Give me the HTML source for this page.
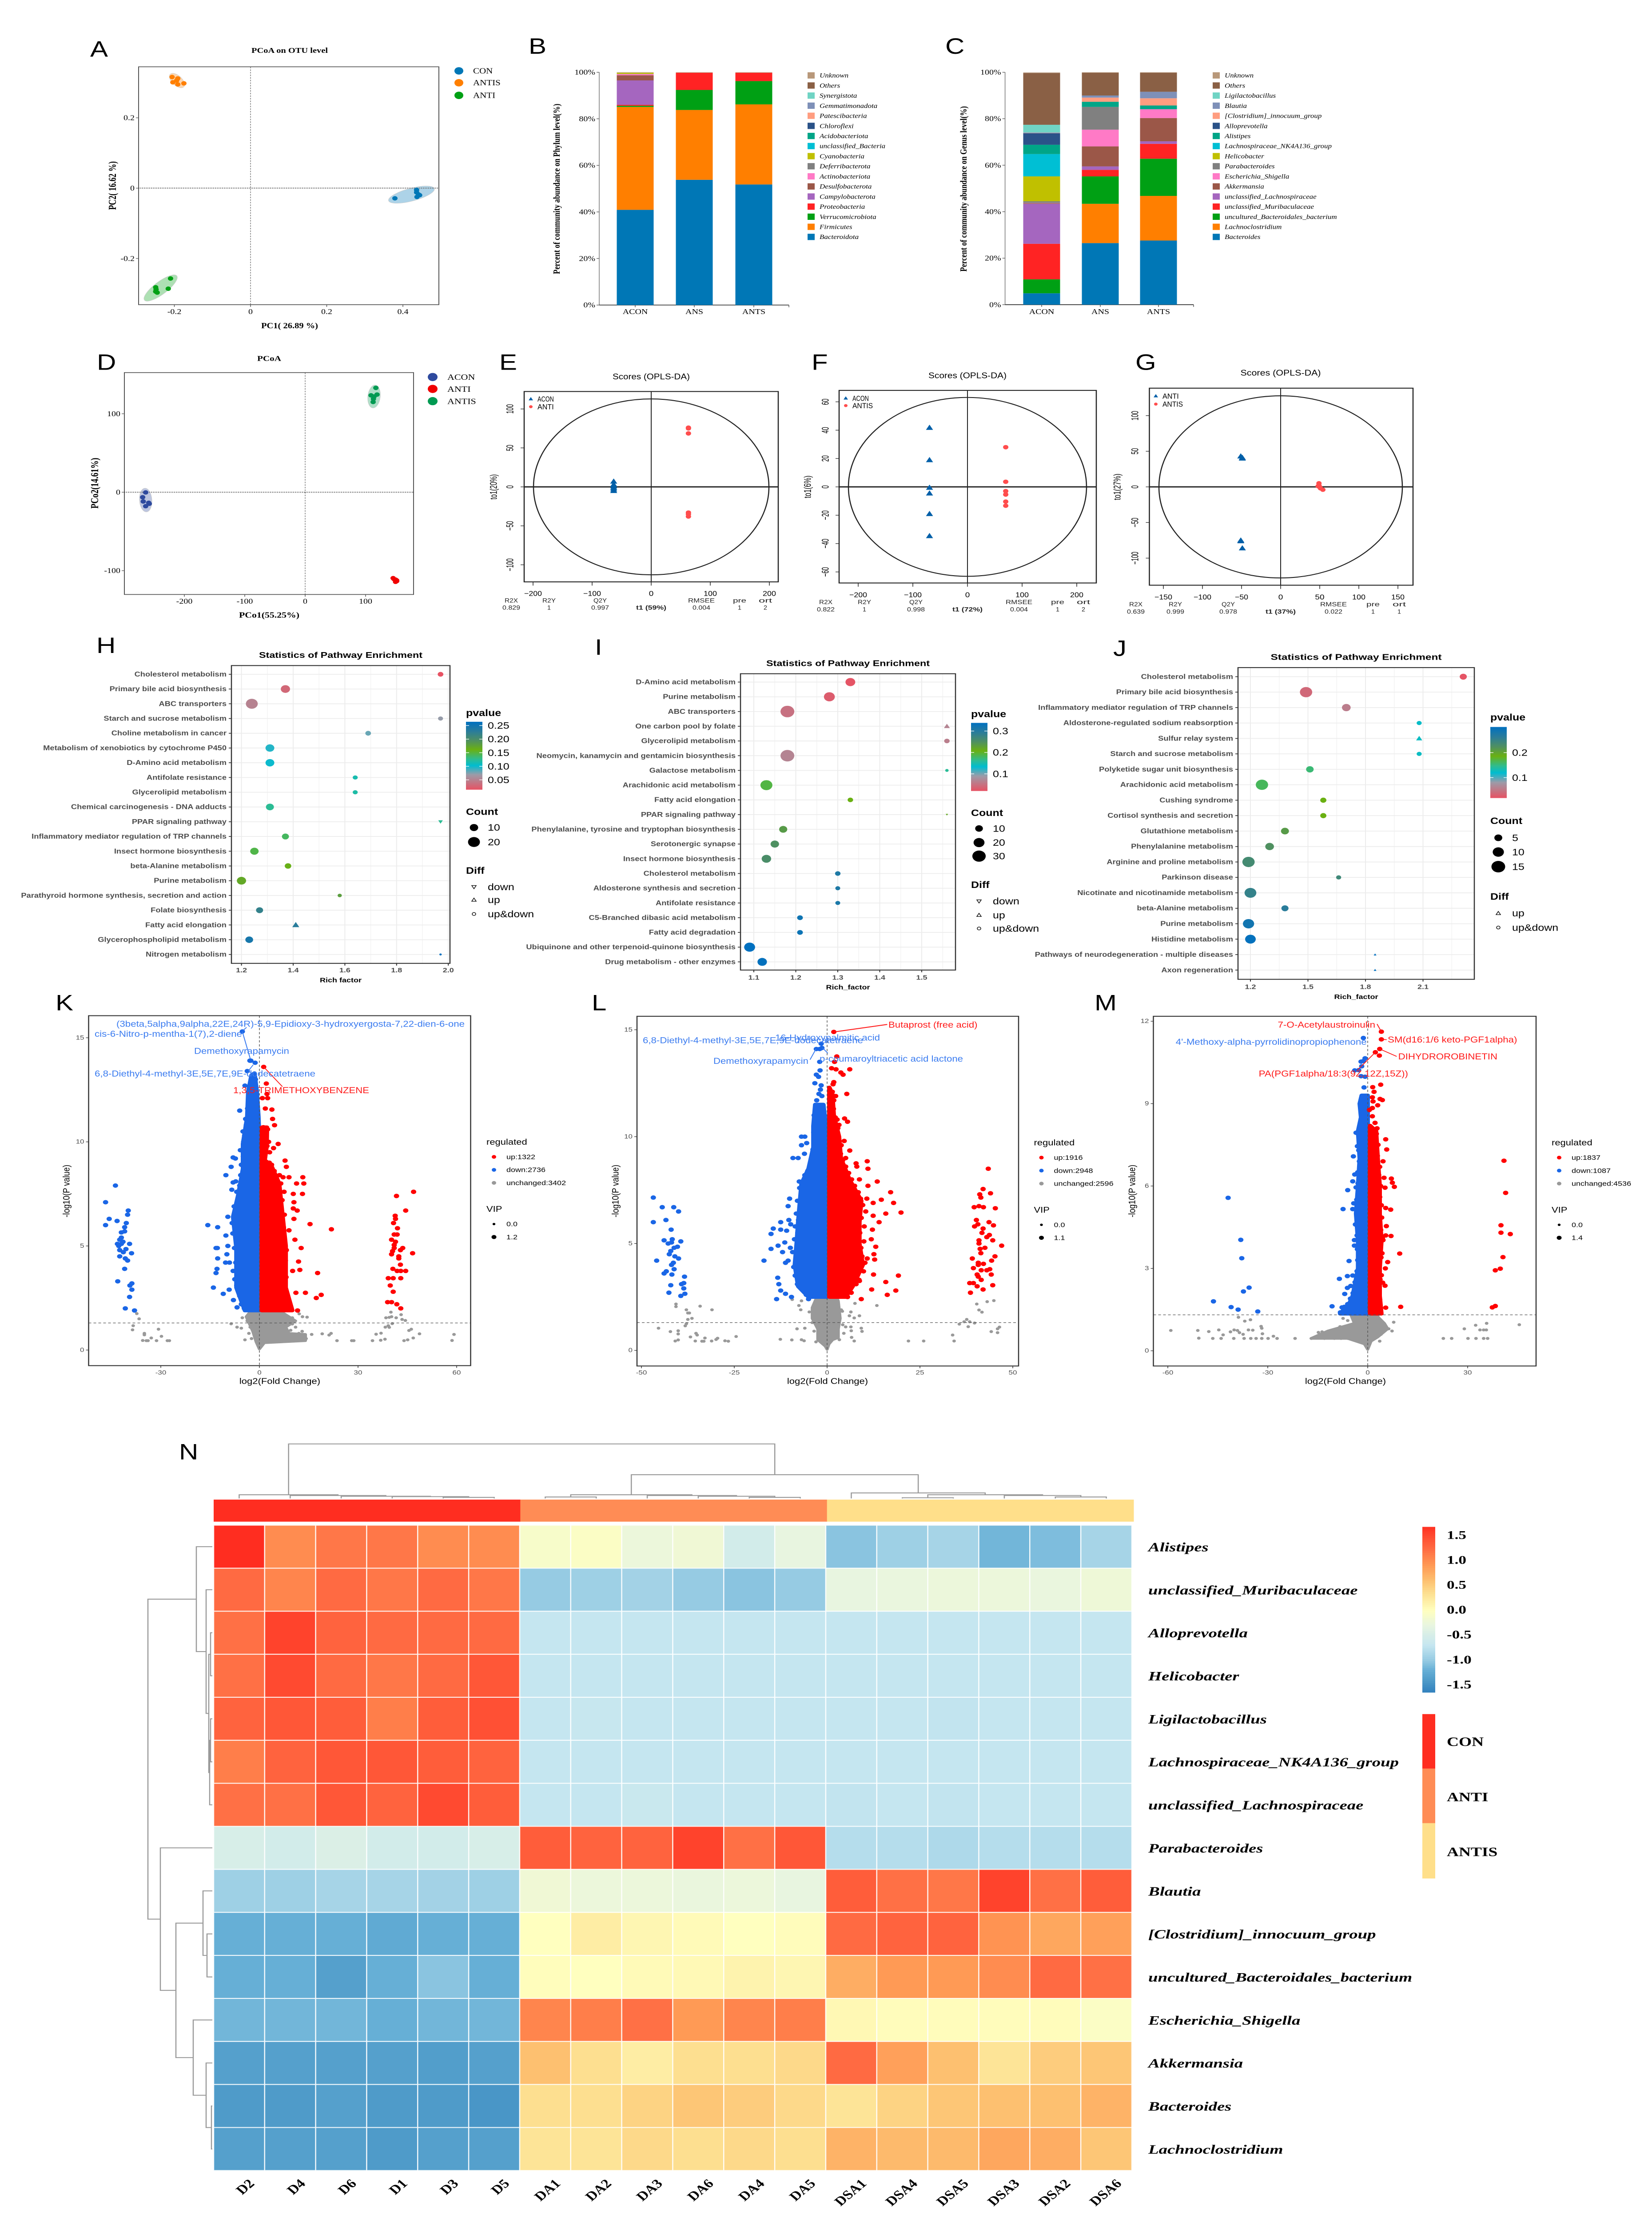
<!DOCTYPE html>
<html lang="en">
<head>
<meta charset="utf-8">
<title>Multi-panel microbiome and metabolomics figure</title>
<style>
html,body{margin:0;padding:0;background:#fff;width:100vw;height:100vh;overflow:hidden;}
#frame{position:relative;width:100vw;height:100vh;overflow:hidden;}
svg{display:block;position:absolute;left:0;top:0;width:100vw;height:100vh;}
text{white-space:pre;}
</style>
</head>
<body>
<div id="frame">
<svg id="figure" xmlns="http://www.w3.org/2000/svg" preserveAspectRatio="none" viewBox="0 0 3719 5985">
<defs>
<linearGradient id="pgrad" x1="0" y1="1" x2="0" y2="0">
<stop offset="0" stop-color="#e75263"/><stop offset=".22" stop-color="#9c9ba8"/><stop offset=".355" stop-color="#00bcd0"/><stop offset=".45" stop-color="#2ebc90"/><stop offset=".59" stop-color="#6ab012"/><stop offset=".72" stop-color="#4f9060"/><stop offset=".86" stop-color="#2a7c9a"/><stop offset="1" stop-color="#0070c0"/>
</linearGradient>
</defs>
<rect width="3719" height="5985" fill="#fff"/>
</svg>
</div>
<script>
/* ===== DATA: panel A ===== */
const aCon=[[.379,-.029],[.436,-.005],[.441,-.018],[.444,-.02],[.437,-.025],[.436,-.012]];
const aAntis=[[-.206,.316],[-.191,.312],[-.204,.301],[-.194,.306],[-.191,.295],[-.175,.298]];
const aAnti=[[-.21,-.257],[-.249,-.282],[-.249,-.294],[-.245,-.297],[-.216,-.286],[-.248,-.288]];
/* ===== DATA: panel B ===== */
const bTaxa=['Bacteroidota','Firmicutes','Verrucomicrobiota','Proteobacteria','Campylobacterota','Desulfobacterota','Actinobacteriota','Deferribacterota','Cyanobacteria','unclassified_Bacteria','Acidobacteriota','Chloroflexi','Patescibacteria','Gemmatimonadota','Synergistota','Others','Unknown'];
const bGroups=['ACON','ANS','ANTS'];
const bAcon=[40.9,44.2,.5,.4,10.5,2.2,.5,.1,.5,0,0,0,0,0,0,0,.2];
const bAns=[53.8,30,8.6,7.4,0,0,0,0,0,0,0,0,0,0,0,0,.2];
const bAnts=[51.8,34.4,10,3.6,0,0,0,0,0,0,0,0,0,0,0,0,.2];
/* ===== DATA: panel C ===== */
const cTaxa=['Bacteroides','Lachnoclostridium','uncultured_Bacteroidales_bacterium','unclassified_Muribaculaceae','unclassified_Lachnospiraceae','Akkermansia','Escherichia_Shigella','Parabacteroides','Helicobacter','Lachnospiraceae_NK4A136_group','Alistipes','Alloprevotella','[Clostridium]_innocuum_group','Blautia','Ligilactobacillus','Others','Unknown'];
const cGroups=['ACON','ANS','ANTS'];
const cAcon=[4.9,0,6,15.3,17.2,.3,.1,.7,10.7,9.6,4,5,.1,.2,3.3,22.3,.2];
const cAns=[26.5,16.9,11.8,2.8,1.5,8.6,7.2,9.8,0,0,2.2,0,1.8,.9,0,9.8,.2];
const cAnts=[27.6,19.2,16,6.4,1.1,10,3.8,0,0,0,1.6,0,3.1,2.8,0,8.2,.2];
/* ===== DATA: panel D ===== */
const dAcon=[[-264,-.3],[-269,-6.4],[-268,-11.8],[-259,-13.5],[-258,-14.7],[-264,-17.8]];
const dAnti=[[145.6,-109.5],[149.6,-111.4],[151.5,-112.4],[149.6,-114.2],[147,-110.7],[151.5,-113.3]];
const dAntis=[[117,133],[109,123.5],[119,124.5],[113,119],[112.5,115],[114,122]];
/* ===== DATA: panels E F G ===== */
const eAcon=[[-63.5,7],[-63.5,3],[-63.5,1],[-63.5,-1],[-63.5,-3],[-63.5,-5]];
const eAnti=[[63,75],[63,68.6],[63,-33],[63,-35],[63,-38],[63,76]];
const fAcon=[[-69.5,41.8],[-69.5,19],[-69.5,-.5],[-69.5,-4.5],[-69.5,-19],[-69.5,-34.6]];
const fAntis=[[70,28],[70,3.6],[70,-3],[70,-5.4],[70,-10.4],[70,-13.3]];
const gAnti=[[-51,43],[-49,40],[-49,41],[-51,-76],[-49,-86],[-51,-75]];
const gAntis=[[49,5],[48,1],[50,-.3],[51,-2],[54,-4],[49,2]];
/* ===== DATA: panel H ===== */
const hNames=['Cholesterol metabolism','Primary bile acid biosynthesis','ABC transporters','Starch and sucrose metabolism','Choline metabolism in cancer','Metabolism of xenobiotics by cytochrome P450','D-Amino acid metabolism','Antifolate resistance','Glycerolipid metabolism','Chemical carcinogenesis - DNA adducts','PPAR signaling pathway','Inflammatory mediator regulation of TRP channels','Insect hormone biosynthesis','beta-Alanine metabolism','Purine metabolism','Parathyroid hormone synthesis, secretion and action','Folate biosynthesis','Fatty acid elongation','Glycerophospholipid metabolism','Nitrogen metabolism'];
const hRich=[1.97,1.37,1.24,1.97,1.69,1.31,1.31,1.64,1.64,1.31,1.97,1.37,1.25,1.38,1.2,1.58,1.27,1.41,1.23,1.97];
const hP=[.014,.03,.05,.07,.08,.095,.10,.115,.118,.125,.125,.14,.146,.16,.17,.18,.22,.23,.245,.264];
const hCount=[4.5,12,20,3.5,4.5,11,11,3.5,3.5,9,3,7,10,6,12,2.5,7,7,8.5,.8];
const hDiff=['o','o','o','o','o','o','o','o','o','o','d','o','o','o','o','o','o','u','o','o'];
/* ===== DATA: panel I ===== */
const iNames=['D-Amino acid metabolism','Purine metabolism','ABC transporters','One carbon pool by folate','Glycerolipid metabolism','Neomycin, kanamycin and gentamicin biosynthesis','Galactose metabolism','Arachidonic acid metabolism','Fatty acid elongation','PPAR signaling pathway','Phenylalanine, tyrosine and tryptophan biosynthesis','Serotonergic synapse','Insect hormone biosynthesis','Cholesterol metabolism','Aldosterone synthesis and secretion','Antifolate resistance','C5-Branched dibasic acid metabolism','Fatty acid degradation','Ubiquinone and other terpenoid-quinone biosynthesis','Drug metabolism - other enzymes'];
const iRich=[1.33,1.28,1.18,1.56,1.56,1.18,1.56,1.13,1.33,1.56,1.17,1.15,1.13,1.3,1.3,1.3,1.21,1.21,1.09,1.12];
const iP=[.022,.03,.05,.068,.062,.068,.16,.19,.208,.217,.236,.25,.255,.306,.306,.31,.322,.325,.338,.335];
const iCount=[16,20,32,6,5,32,2,24,5,1,11,12,15,5,4,4,5.5,5.5,20,15];
const iDiff=['o','o','o','u','o','o','o','o','o','d','o','o','o','o','o','o','o','o','o','o'];
/* ===== DATA: panel J ===== */
const jNames=['Cholesterol metabolism','Primary bile acid biosynthesis','Inflammatory mediator regulation of TRP channels','Aldosterone-regulated sodium reabsorption','Sulfur relay system','Starch and sucrose metabolism','Polyketide sugar unit biosynthesis','Arachidonic acid metabolism','Cushing syndrome','Cortisol synthesis and secretion','Glutathione metabolism','Phenylalanine metabolism','Arginine and proline metabolism','Parkinson disease','Nicotinate and nicotinamide metabolism','beta-Alanine metabolism','Purine metabolism','Histidine metabolism','Pathways of neurodegeneration - multiple diseases','Axon regeneration'];
const jRich=[2.31,1.49,1.70,2.08,2.08,2.08,1.51,1.26,1.58,1.58,1.38,1.30,1.19,1.66,1.20,1.38,1.19,1.20,1.85,1.85];
const jP=[.02,.037,.055,.123,.125,.125,.155,.163,.186,.186,.212,.223,.235,.24,.252,.263,.286,.30,.303,.303];
const jCount=[4,12,6,2,3,2,4.5,12,3,3,5,6,12,2,11,4,10,9,.6,.6];
const jDiff=['o','o','o','o','u','o','o','o','o','o','o','o','o','o','o','o','o','o','u','u'];
/* ===== DATA: panel K (log2FC, -log10 P) ===== */
const kDownCloud=[[-4.4,1.9],[-7,3],[-7,4.9],[-8,6.4],[-6.5,7.4],[-5,8.7],[-5,9.9],[-3.7,11.2],[-3.4,12.4],[-2.4,13.2],[-1.5,13.3],[-.8,12.4],[-.3,11.2],[0,9.9],[0,1.9]];
const kUpCloud=[[.7,1.9],[10,1.9],[8,3],[8,5],[7,6.5],[6,8],[3.5,8.9],[1.5,9],[2.2,9.8],[2.3,10.7],[.8,10.7],[.7,9]];
const kGrayCloud=[[0,.05],[1.5,.35],[14,.45],[14,.75],[9,.8],[8,1.1],[11,1.4],[6,1.9],[-1,2.2],[-4,1.6],[-2,.9],[-1,.4]];
const kDown=[[-43.8,7.9],[-46.8,7.1],[-39.9,6.7],[-40.1,6.5],[-45.7,6.3],[-43.3,6.2],[-40.5,6.1],[-46.8,6],[-41,5.9],[-41,5.7],[-42,5.65],[-42,5.4],[-42.5,5.3],[-41.5,5.2],[-43.2,5.1],[-42,5.1],[-39.5,5.1],[-42.8,5],[-40.6,4.85],[-42.5,4.8],[-41.4,4.7],[-38.9,4.65],[-42.5,4.5],[-40.8,4.4],[-40.1,4.3],[-41,3.9],[-43.1,3.3],[-38.8,3.2],[-39.4,3.1],[-38.8,2.9],[-39.5,2.55],[-40.8,2],[-38,1.9],[-15.7,6],[-12.7,5.9],[-9.6,6.4],[-10.2,8.4],[-8.6,8.8],[-8,9.25],[-7.3,9.2],[-8.4,7.7],[-10.2,5.5],[-9.6,5],[-13.2,4.9],[-12.8,4.9],[-9.9,4.6],[-12.7,4.4],[-10.3,4.2],[-9.1,4.2],[-12.9,3.9],[-13.2,3.7],[-14,3],[-11,2.7],[-9.2,2.9],[-7.9,2.4],[-6,11.5],[-4.4,12.7],[-5.2,15.3],[-3.7,13.4],[-2.6,13.9],[-1.3,13.8],[-2.9,13.9],[-6.8,2.05],[-8,8.05]];
const kDownEdge=[[-7.5,3.4],[-6.9,3.1],[-8,3.8],[-7.2,4.2],[-6.8,4.5],[-7.6,4.9],[-6.5,5.3],[-8.1,5.6],[-7.4,5.9],[-8.3,6.1],[-7.1,6.6],[-7.7,6.9],[-6.6,7.2],[-6.9,7.6],[-6,7.9],[-7.2,8.1],[-5.7,8.4],[-5.5,8.9],[-4.9,9.3],[-5.8,9.6],[-4.8,10],[-4.5,10.3],[-5,10.5],[-4,10.8],[-4.2,11.1],[-3.6,11.6],[-3.3,12],[-2.9,12.4],[-2.5,12.9],[-2,13.1],[-6,2.6],[-5.5,2.2],[-4.6,2],[-6.6,2.9],[-3.1,11.9],[-1.2,13],[-1.8,12.7],[-1,12.2],[-.9,11.6],[-.5,11],[-.3,10.6]];
const kUp=[[46.9,7.6],[41.7,7.4],[44.5,6.7],[41.3,6.45],[41.4,6.3],[40.8,6.1],[42,5.85],[41,5.55],[41.9,5.55],[40.2,5.3],[41.4,5.2],[41,5.05],[41,4.9],[43.6,4.9],[42.9,4.8],[40.5,4.75],[40.2,4.6],[46.6,4.65],[42.4,4.5],[42.4,4.4],[42.9,4.1],[40.6,3.9],[43,3.8],[41.9,3.8],[44.5,3.8],[39.2,3.45],[40.7,3.45],[43,3.45],[39.8,3.1],[40.7,2.8],[39,2.3],[40.2,2.3],[41.8,2.2],[43,2],[21.9,5.8],[15.4,6.05],[14,2.75],[18.8,2.65],[17.3,2.5],[17.7,3.7],[11.9,4.25],[12.7,4.9],[10.8,5.3],[12.3,3.85],[10.1,3.8],[11.1,2.75],[11.6,1.9],[9,5.75],[10.5,6.3],[11.5,6.7],[10.3,6.8],[10.5,7.1],[13.1,7.5],[10.3,7.5],[11.3,8],[13.5,8],[13.2,8.3],[9,8.3],[7.8,9.1],[8.2,8.8],[5.7,9.9],[4.3,9.7],[4.6,10.8],[4,11.1],[3.8,11.55],[1.8,11.6],[2.5,12.1],[.9,12.1],[2.3,12.3],[2.1,12.8],[1.3,13.6]];
const kUpEdge=[[8.3,2.2],[7.5,2.5],[9.2,2.1],[8,2.9],[7.1,3.3],[8.1,3.5],[6.9,3.9],[7.9,4.3],[6.5,4.6],[8.2,4.8],[7,5.2],[6.2,5.5],[7.3,5.9],[6.8,6.2],[7.6,6.5],[5.9,6.9],[6.9,7.2],[7.5,7.6],[5.6,7.8],[6.5,8],[5,8.3],[4.5,8.6],[3.7,8.9],[3,9],[2,9.05],[1.5,9.6],[2.3,9.8],[1.9,10.2],[2.1,10.5],[1.2,10.7],[2.5,10.6],[3.1,9.5],[2.8,10],[6.1,8.4],[7.2,8.3],[5.2,7.1]];
const kGray=[[-37.3,1.75],[-36.6,1.5],[-38.4,1.17],[-38.6,.97],[-35,.8],[-35,.73],[-32.9,.58],[-29.8,.66],[-30.7,1],[-35.5,.46],[-34.4,.45],[-33.9,.45],[-31.3,.45],[-28,.45],[-27.4,.45],[15.9,.75],[19.1,.78],[21.2,.72],[21.8,.8],[23.6,.45],[28.1,.45],[28.7,.45],[34.4,.45],[35.5,.76],[37,.81],[36.9,.47],[38.2,.52],[38.3,1.1],[39.2,1.17],[39.5,1.09],[40.4,1.27],[38.5,1.55],[39.5,1.57],[40.2,1.6],[40,1.82],[41.6,1.55],[43.1,1.7],[43.4,1.47],[44.4,1.42],[45.5,.94],[46.2,1],[48.7,.78],[44,.45],[45.1,.49],[46.8,.58],[58.6,.46],[59.2,.75],[10,1.55],[12.1,1.74],[13.1,1.6],[14.5,1.58],[-5.2,1.55],[-8.6,1.26],[-6.8,1.1],[-5.5,1.05],[-4.4,.49],[3,1.8],[5,1.6],[7,1.5],[8.5,1.3],[10,1.25],[11,1.1],[13,.9],[9.5,.95],[12,.8],[14.2,.55],[11.5,.5],[7,.55],[-2,1.9],[-3,1.7],[-3.7,1.4],[-2.8,1.1],[-3.2,.8],[-2.4,.55],[1,2]];
/* ===== DATA: panel L ===== */
const lDownCloud=[[-5,2.5],[-7.8,3],[-8.7,4],[-8.2,5],[-7.8,6],[-7.3,7],[-6.9,7.8],[-5,8.5],[-3.7,9.5],[-3.7,10.5],[-3.2,11.5],[-1,11.5],[0,10],[0,2.5]];
const lUpCloud=[[.6,2.5],[5,2.5],[6.9,3],[9.6,4],[8.7,5],[8.7,6],[9.2,7],[6,8],[3.7,9],[3.2,10],[1.8,11],[1.4,12],[.6,12.3]];
const lGrayCloud=[[0,.05],[.5,.3],[1.5,.5],[3,.6],[3,1],[3.5,1.5],[3,2.3],[1.5,3],[-1.5,3],[-3,2.4],[-4,2],[-4,1.5],[-2.5,1],[-2.5,.5],[-.5,.2]];
const lDown=[[-46.8,7.15],[-44.4,6.7],[-41.3,6.7],[-40,6.5],[-43.4,6.1],[-46.8,6],[-42,5.65],[-43.9,5.15],[-41.7,5.2],[-39.4,5.1],[-42.8,5],[-41.9,5.05],[-40.3,4.85],[-41.2,4.8],[-42.1,4.65],[-42.5,4.5],[-41,4.4],[-40,4.3],[-45.9,4.2],[-41.4,4.1],[-41.9,4],[-43.3,3.7],[-41.2,3.8],[-43.9,3.6],[-41.8,3.55],[-38.4,3.45],[-38.6,3.15],[-42.1,3.05],[-39.2,3.1],[-38.6,2.9],[-42.6,2.7],[-38.3,2.65],[-39.4,2.55],[-17,4.2],[-15.1,5.45],[-14.5,5.7],[-12.5,6],[-12.5,5.65],[-10.9,5.6],[-10.3,6.1],[-9.8,5.9],[-15.1,4.75],[-13.2,4.9],[-11.4,5.05],[-12,4.6],[-9.9,4.8],[-10.5,4.2],[-11.2,4.1],[-13.3,3.4],[-13,3.1],[-12.5,2.8],[-11.2,2.65],[-13.6,2.4],[-9.6,2.5],[-10.1,7.1],[-10.5,6.75],[-9.2,9],[-7.8,9],[-6.9,10],[-6,10],[-6.9,9.6],[-5.5,9.7],[-6.1,9.2],[-7.5,7.9],[-1.6,14.35],[-2.9,14.1],[-2,14.1],[-1.4,14.15],[-2,13.5],[-1.9,13.1],[-2.9,12.9],[-2.3,12.8],[-3.3,12.5],[-1.6,12.4],[-1.8,12.2]];
const lDownEdge=[[-5.6,2.6],[-6.8,2.9],[-8,3.1],[-8.6,3.5],[-9,3.9],[-8.2,4.3],[-9.3,4.6],[-8.1,4.9],[-8.8,5.2],[-7.9,5.5],[-8.6,5.8],[-7.7,6.1],[-8.3,6.4],[-7.3,6.7],[-8,7],[-7,7.3],[-7.4,7.6],[-6.6,7.9],[-6,8.2],[-5.2,8.4],[-4.6,8.7],[-4.2,9],[-3.8,9.4],[-3.4,9.8],[-3.6,10.2],[-3.3,10.6],[-3.5,11],[-2.9,11.3],[-2.8,11.7],[-2.2,12],[-1.4,11.9],[-1,11.2],[-5,2.4]];
const lUp=[[1.8,14.9],[2.6,13.75],[2,13.5],[1.2,13.2],[2.4,13.15],[6.1,13.15],[3.7,13],[4.3,12.9],[1.8,12.55],[1.6,12.45],[5.3,12],[1.4,12.1],[2.3,11.9],[1.8,11.7],[4.7,10.85],[5.5,10.7],[2.7,10.8],[3.2,10.55],[2.9,10.05],[4.6,9.8],[6.1,9.35],[5,9],[10.8,8.85],[7.8,8.75],[11,8.5],[8,8.6],[13.5,7.9],[8.7,8],[11,7.7],[17.1,7.4],[14.6,7.05],[10.7,7.1],[17.9,6.9],[12.4,6.9],[19.9,6.45],[15.8,6.4],[12.4,6.3],[14,6],[11.9,5.2],[13.1,4.85],[12.2,5.65],[12.6,4.5],[12.8,4.25],[10.8,4.3],[19.2,3.5],[12.5,3.55],[15.8,3.2],[8.7,3.25],[12,2.85],[18.5,2.8],[16.2,2.6],[9.2,2.4],[43.4,8.5],[42,7.55],[41.1,7.3],[44,7.35],[41.4,7.15],[40.9,6.75],[39.6,6.7],[42.1,6.7],[45.3,6.65],[40.2,6.1],[43.6,6],[44.8,5.85],[40.6,5.9],[39.7,5.8],[42,5.7],[41.7,5.5],[43.7,5.4],[43,5.3],[44.6,5.15],[40.9,5.15],[47,4.9],[40.9,5],[42.5,4.8],[41.2,4.75],[41.4,4.55],[45.2,4.4],[39.1,4.3],[44.3,4.2],[40.7,4.1],[42.1,4.05],[40.7,4],[39.4,3.85],[41.5,3.75],[43,3.75],[43.8,3.8],[44.2,3.55],[40.4,3.55],[40.7,3.45],[41.5,3.3],[38.4,3.15],[39.4,3.15],[40.4,3],[44.6,3.05],[42,2.85],[38.6,2.7]];
const lUpEdge=[[5.5,2.5],[6.5,2.7],[7.8,3.1],[8.6,3.3],[9.8,3.7],[10.2,4.1],[9.4,4.4],[9.1,4.8],[9.9,5.1],[8.8,5.5],[10,5.8],[9.2,6.2],[10.4,6.5],[9.6,6.8],[9,7.1],[8.4,7.4],[7.4,7.7],[6.6,8],[5.8,8.3],[5,8.6],[4.2,8.9],[3.6,9.2],[3.8,9.6],[3.1,9.9],[2.9,10.4],[2.2,10.9],[1.7,11.3],[1.5,11.9],[8,3.9],[7.2,5]];
const lGray=[[-40.7,2.17],[-40.7,2.05],[-37.9,1.9],[-37.5,1.75],[-37.1,1.75],[-37.5,1.45],[-36.4,1.5],[-37.9,1.25],[-38.2,1.15],[-34.2,2.07],[-31,1.9],[-45.4,1.04],[-42.2,.88],[-40.1,.92],[-40.1,.77],[-35.3,.8],[-35,.72],[-36.8,.63],[-32.9,.58],[-40.9,.44],[-40.1,.49],[-35.5,.44],[-33.7,.43],[-33.2,.43],[-31.1,.44],[-29.9,.51],[-29.5,.57],[-27.5,.45],[-26.6,.43],[-24.5,.65],[-12.6,.52],[-9.5,.49],[-6.9,.5],[-6.2,.45],[-8.1,1.01],[-6,1.04],[-9.4,2.38],[-6.9,2.32],[-7.6,2.1],[-7.1,1.9],[5,1.1],[6.4,1.1],[6.5,.92],[9.2,1.04],[9.4,.89],[7.3,1.52],[8.7,1.62],[6,1.62],[6.4,1.8],[4.1,1.83],[7.5,2.2],[13.4,2.1],[6.6,.61],[7.3,.44],[21.9,.44],[26,.44],[34.2,.44],[33.8,.72],[35.6,1.23],[36.9,1.34],[37.6,1.45],[38,1.11],[38.4,1.34],[39.7,1.28],[40.3,2.17],[40.9,1.89],[41.7,1.79],[43.1,2.28],[44.9,2.33],[44.2,.88],[45.9,.83],[45.9,1.01],[46.4,1.09],[3.8,1.9],[4.2,1.2],[4.5,.8],[-3.5,.9],[-4,1.3],[-4.8,1.8],[2.5,2.6],[-2.6,2.7],[3.3,.5],[-3,.4]];
/* ===== DATA: panel M ===== */
const mDownCloud=[[-8.3,1.35],[-5.6,1.7],[-4.5,2],[-2.9,3],[-2.9,4],[-3.5,5],[-2.9,6],[-2.4,7],[-2.9,8],[-2,8.5],[-2.4,9],[-1.8,9.3],[0,9.3],[0,1.35]];
const mUpCloud=[[.7,1.35],[4.1,1.35],[3.6,2],[3.6,3],[4.1,4],[3.6,5],[3.6,6],[3,7],[2.5,8],[.7,8.2]];
const mGrayCloud=[[0,.05],[1,.35],[3,.5],[6,.8],[5,1],[2.5,1.3],[-5,1.3],[-4,1],[-12,.72],[-17,.45],[-6,.45],[-1,.25]];
const mDown=[[-41.9,5.57],[-38.1,4.04],[-37.8,3.37],[-35.6,2.3],[-37.3,2.16],[-46.3,1.8],[-41,1.59],[-38.9,1.5],[-33,1.43],[-10.7,1.62],[-8.5,2.62],[-5.6,3.27],[-7.4,5.16],[-6,5.85],[-4.5,6.17],[-3.9,6.42],[-4.3,7.08],[-3.5,5.95],[-4.5,5.16],[-4.2,5.37],[-4,4.03],[-4,3.83],[-6.1,2.72],[-4.5,2.74],[-6.1,2.29],[-5.1,2.36],[-6.9,2.07],[-7.7,1.58],[-7,1.6],[-3.5,7.94],[-2.9,7.9],[-3.1,7.45],[-1.3,11.39],[-.8,10.65],[-2,10.53],[-1.3,10.55],[-2.7,10.22],[-3.9,10.21],[-2,10],[-.8,9.98],[-1.1,9.59],[-1,9.23],[-1.8,10.36]];
const mDownEdge=[[-8.2,1.4],[-7,1.5],[-6,1.7],[-5.2,1.9],[-4.4,2.1],[-3.8,2.5],[-3.2,2.9],[-3,3.3],[-3.1,3.7],[-3.2,4.2],[-3.7,4.6],[-3,5.1],[-3.3,5.5],[-2.9,6.1],[-3,6.5],[-2.5,6.9],[-2.7,7.3],[-2.3,7.7],[-2,8.2],[-1.6,8.6],[-1.8,8.9],[-1.5,9.1]];
const mUp=[[4.1,11.62],[4.1,11.34],[3.6,10.99],[2.3,10.87],[3.5,10.75],[3.9,9.69],[1.5,9.6],[1.9,9.43],[1.4,9.23],[3.7,9.17],[4.4,9.13],[1.6,9.08],[3,8.94],[1.4,8.84],[.5,8.77],[1.4,8.54],[5.4,7.7],[5.7,7.33],[4.6,6.9],[7.1,6.27],[7.4,6.12],[8,5.97],[4.9,6.3],[5.2,5.94],[5.4,5.2],[6.9,5.14],[4.2,4.85],[5.6,4.54],[5.4,4.2],[7,4.18],[4.6,4.03],[9.6,3.54],[4.3,3.55],[6,3.23],[5.3,3],[4.1,2.75],[5.2,2.37],[4.5,2.48],[3.6,1.86],[5.4,1.57],[9.9,1.6],[40.9,6.92],[41.4,5.75],[40,4.57],[40,4.3],[42.8,4.25],[40.6,3.41],[39.8,2.99],[38.3,2.93],[38.3,1.63],[37.4,1.58]];
const mUpEdge=[[3.9,1.4],[3.5,1.7],[3.3,2.1],[3.7,2.6],[3.4,3.1],[4,3.4],[3.6,3.8],[4.4,4.1],[3.9,4.4],[3.5,4.8],[4.1,5.3],[3.6,5.6],[3.9,6],[3.3,6.4],[3.6,6.7],[2.9,7.1],[3.1,7.5],[2.6,7.9],[2.8,8.1],[2.2,8.3]];
const mGray=[[-59.1,.74],[-51,.74],[-50.7,.46],[-47.7,.7],[-46.5,.45],[-44.7,.76],[-44,.45],[-43.4,.58],[-41.2,.69],[-40.1,.76],[-39.1,.74],[-40.2,.45],[-38.8,1.22],[-38.5,.66],[-37.4,.6],[-36.9,1.08],[-35.2,1.13],[-37.1,.45],[-35.8,.76],[-34.5,.75],[-35.1,.45],[-33.5,.45],[-32,.89],[-31.8,.82],[-31.6,.62],[-31.8,.45],[-29.9,.45],[-28.3,.53],[-27.2,.45],[-21.8,.45],[-16.9,.45],[-14.8,.67],[-13.7,.69],[-8.3,.88],[-7.4,1.18],[-5.6,.91],[7.8,1.04],[6.3,.8],[7.3,.72],[22.7,.45],[25.2,.45],[29,.8],[30.1,.45],[32.5,.45],[32.4,.93],[33.7,.76],[34.8,.45],[36,.45],[35.7,1],[34.8,.76],[35.6,.76],[45.5,.95],[-9,.65],[-11,.6],[-15,.5],[-13,.45],[-10,.45],[-8,.8],[-6,1.1],[-3,1.25],[3,1.25],[5.2,.9],[4,.6],[3.6,.35],[-6,.45],[-8,.45]];
/* ===== DATA: panel N ===== */
const nCols=['D2','D4','D6','D1','D3','D5','DA1','DA2','DA3','DA6','DA4','DA5','DSA1','DSA4','DSA5','DSA3','DSA2','DSA6'];
const nRows=['Alistipes','unclassified_Muribaculaceae','Alloprevotella','Helicobacter','Ligilactobacillus','Lachnospiraceae_NK4A136_group','unclassified_Lachnospiraceae','Parabacteroides','Blautia','[Clostridium]_innocuum_group','uncultured_Bacteroidales_bacterium','Escherichia_Shigella','Akkermansia','Bacteroides','Lachnoclostridium'];
const nValues=[
[1.7,1,1.15,1.15,1,1,-.1,-.05,-.25,-.2,-.55,-.3,-1.05,-.95,-.9,-1.15,-1.1,-.9],
[1.25,1.05,1.25,1.15,1.25,1.15,-1,-.95,-.92,-1,-1.05,-1,-.3,-.28,-.25,-.25,-.28,-.22],
[1.2,1.55,1.3,1.25,1.25,1.25,-.7,-.7,-.7,-.7,-.7,-.7,-.7,-.7,-.7,-.7,-.7,-.7],
[1.2,1.5,1.25,1.15,1.25,1.4,-.7,-.7,-.7,-.7,-.7,-.7,-.7,-.7,-.7,-.7,-.7,-.7],
[1.3,1.4,1.35,1.1,1.35,1.45,-.7,-.68,-.7,-.7,-.7,-.7,-.7,-.7,-.72,-.7,-.7,-.7],
[1.1,1.3,1.4,1.4,1.35,1.3,-.7,-.7,-.7,-.7,-.7,-.7,-.7,-.7,-.7,-.7,-.7,-.7],
[1.2,1.2,1.4,1.3,1.5,1.35,-.7,-.7,-.65,-.7,-.7,-.7,-.72,-.7,-.72,-.7,-.7,-.7],
[-.5,-.55,-.45,-.55,-.55,-.5,1.35,1.3,1.3,1.55,1.2,1.4,-.8,-.8,-.85,-.8,-.8,-.8],
[-.95,-.95,-.9,-.9,-.92,-.95,-.2,-.25,-.25,-.27,-.25,-.3,1.35,1.2,1.15,1.55,1.2,1.35],
[-1.2,-1.2,-1.2,-1.25,-1.2,-1.2,0,.2,.1,.05,0,.03,1.25,1.3,1.3,.95,.8,.85],
[-1.2,-1.2,-1.35,-1.2,-1.05,-1.2,.02,0,.05,.07,.13,.1,.75,.9,.9,1,1.25,1.2],
[-1.15,-1.15,-1.15,-1.2,-1.15,-1.15,1.05,1.1,1.2,.9,1.05,1.1,.08,.03,.03,.03,.03,-.05],
[-1.35,-1.35,-1.35,-1.35,-1.37,-1.35,.6,.35,.2,.35,.35,.4,1.25,.85,.6,.3,.5,.55],
[-1.4,-1.4,-1.35,-1.4,-1.4,-1.45,.35,.35,.45,.55,.5,.4,.3,.45,.55,.6,.6,.7],
[-1.35,-1.35,-1.35,-1.4,-1.35,-1.35,.3,.3,.4,.35,.4,.35,.7,.65,.65,.8,.75,.55]];

/* ===== Helpers ===== */
const NS='http://www.w3.org/2000/svg';
const root=document.getElementById('figure');
const SANS='"Liberation Sans", sans-serif', SERIF='"Liberation Serif", serif';
function mk(p,tag,attrs,name){
  const e=document.createElementNS(NS,tag);
  for(const k in attrs)e.setAttribute(k,attrs[k]);
  
  
  p.appendChild(e);
  return e;
}
function lin(d0,r0,d1,r1){const k=(r1-r0)/(d1-d0);return v=>r0+(v-d0)*k;}
function group(name){return mk(root,'g',{},name);}
function T(p,x,y,s,o,name){
  o=o||{};
  let tr='translate('+x+','+y+')';
  if(o.rot)tr+=' rotate('+o.rot+')';
  if(o.sx)tr+=' scale('+o.sx+',1)';
  const a={x:0,y:0,transform:tr,'dominant-baseline':'central','font-family':o.fam||SANS,'font-size':o.fs||18,fill:o.fill||'#000','text-anchor':o.a||'start'};
  if(o.b)a['font-weight']='bold';
  if(o.i)a['font-style']='italic';
  if(o.len){a.textLength=o.len;a.lengthAdjust='spacingAndGlyphs';}
  const e=mk(p,'text',a,name);
  e.textContent=s;
  return e;
}
function L(p,x1,y1,x2,y2,stroke,w,name,dash){
  const a={x1,y1,x2,y2,stroke,'stroke-width':w};
  if(dash)a['stroke-dasharray']=dash;
  return mk(p,'line',a,name);
}
function R(p,x,y,w,h,fill,name,extra){
  return mk(p,'rect',Object.assign({x,y,width:w,height:h,fill},extra||{}),name);
}
function C(p,x,y,r,fill,name){return mk(p,'circle',{cx:x,cy:y,r,fill},name);}
function E(p,cx,cy,rx,ry,rot,attrs,name){
  return mk(p,'ellipse',Object.assign({cx,cy,rx,ry,transform:'rotate('+rot+' '+cx+' '+cy+')'},attrs),name);
}
function Tri(p,x,y,h,dir,attrs,name){
  const d=dir==='d'?-1:1;
  const pts=[[x,y-h*d],[x-h,y+h*.75*d],[x+h,y+h*.75*d]].map(q=>q.join(',')).join(' ');
  return mk(p,'polygon',Object.assign({points:pts},attrs),name);
}
function hexRgb(h){return [1,3,5].map(i=>parseInt(h.substr(i,2),16));}
function ramp(stopsT,stopsC,t){
  if(t<=stopsT[0])return stopsC[0];
  for(let i=1;i<stopsT.length;i++){
    if(t<=stopsT[i]){
      const u=(t-stopsT[i-1])/(stopsT[i]-stopsT[i-1]);
      const a=hexRgb(stopsC[i-1]),b=hexRgb(stopsC[i]);
      return 'rgb('+a.map((v,k)=>Math.round(v+(b[k]-v)*u)).join(',')+')';
    }
  }
  return stopsC[stopsC.length-1];
}

/* ===== Panel letters ===== */
const lettersG=group('panel-letters');
[['A',203,132],['B',1190,124],['C',2128,124],['D',218,976],['E',1124,976],['F',1827,976],['G',2556,976],['H',217,1739],['I',1339,1744],['J',2506,1747],['K',125,2702],['L',1332,2702],['M',2464,2702],['N',403,3912]].forEach(q=>{
  T(lettersG,q[1],q[2],q[0],{fs:60},'panel-letter-'+q[0].toLowerCase());
});

/* ===== PCoA panels A and D ===== */
function pcoa(name,cfg){
  const g=group(name);
  const [x0,y0,x1,y1]=cfg.box;
  T(g,(cfg.titleX),cfg.titleY,cfg.title,{fam:SERIF,b:1,fs:20,a:'middle',len:cfg.titleLen},'chart-title');
  cfg.ell.forEach(e=>{
    E(g,cfg.x(e[0]),cfg.y(e[1]),e[2],e[3],e[4],{fill:e[5],'fill-opacity':.32,stroke:'#ccc','stroke-width':1},'confidence-ellipse');
  });
  L(g,cfg.x(0),y0,cfg.x(0),y1,'#777',1.5,'zero-line-vertical','4,3');
  L(g,x0,cfg.y(0),x1,cfg.y(0),'#777',3,'zero-line-horizontal','2,2');
  R(g,x0,y0,x1-x0,y1-y0,'none','plot-frame',{stroke:'#555','stroke-width':2});
  cfg.series.forEach(s=>{
    s.pts.forEach(p=>{
      C(g,cfg.x(p[0]),cfg.y(p[1]),cfg.r,s.color,'sample-point');
    });
  });
  cfg.xt.forEach(v=>{
    L(g,cfg.x(v),y1,cfg.x(v),y1+6,'#555',1.5,'x-tick');
    T(g,cfg.x(v),y1+cfg.xlab,String(v),{fam:SERIF,fs:cfg.tfs,a:'middle'},'x-tick-label');
  });
  cfg.yt.forEach(v=>{
    L(g,x0-6,cfg.y(v),x0,cfg.y(v),'#555',1.5,'y-tick');
    T(g,x0-9,cfg.y(v),String(v),{fam:SERIF,fs:cfg.tfs,a:'end'},'y-tick-label');
  });
  T(g,cfg.xTitle[0],cfg.xTitle[1],cfg.xTitle[2],{fam:SERIF,b:1,fs:cfg.tfs+2,a:'middle',len:cfg.xTitle[3]},'x-axis-title');
  T(g,cfg.yTitle[0],cfg.yTitle[1],cfg.yTitle[2],{fam:SERIF,b:1,fs:24,a:'middle',rot:-90,len:cfg.yTitle[3]},'y-axis-title');
  cfg.series.forEach((s,i)=>{
    C(g,cfg.legX,cfg.legY[i],cfg.legR,s.color,'legend-marker');
    T(g,cfg.legX+cfg.legT,cfg.legY[i]+1,s.name,{fam:SERIF,fs:cfg.legFs},'legend-label');
  });
}
pcoa('panel-a-pcoa-otu',{
  box:[312,180,988,821],x:lin(0,564,.2,735.5),y:lin(0,507,.2,317.5),r:6,
  title:'PCoA on OTU level',titleX:652,titleY:136,titleLen:172,
  ell:[[.4225,-.0185,54,17,-18,'#0077b6'],[-.193,.306,23,12,52,'#ff7f00'],[-.236,-.284,49,16,-43,'#00a014']],
  series:[{name:'CON',color:'#0077b6',pts:aCon},{name:'ANTIS',color:'#ff7f00',pts:aAntis},{name:'ANTI',color:'#00a014',pts:aAnti}],
  xt:[-.2,0,.2,.4],yt:[-.2,0,.2],xlab:19,tfs:20,
  xTitle:[652,878,'PC1( 26.89 %)',128],yTitle:[253,500,'PC2( 16.62 %)',131],
  legX:1033,legY:[191,223,257],legR:10,legT:32,legFs:21
});
pcoa('panel-d-pcoa',{
  box:[280,1004,931,1602],x:lin(0,687,100,823),y:lin(0,1326.4,100,1115),r:6,
  title:'PCoA',titleX:606,titleY:966,titleLen:54,
  ell:[[-264,-10,14,32,-3,'#2e4a9e'],[114,122,14,31,5,'#009a52']],
  series:[{name:'ACON',color:'#2e4a9e',pts:dAcon},{name:'ANTI',color:'#f00000',pts:dAnti},{name:'ANTIS',color:'#009a52',pts:dAntis}],
  xt:[-200,-100,0,100],yt:[-100,0,100],xlab:18,tfs:20,
  xTitle:[606,1658,'PCo1(55.25%)',136],yTitle:[213,1302,'PCo2(14.61%)',137],
  legX:974,legY:[1016,1048,1081],legR:11,legT:33,legFs:22
});

/* ===== Stacked bars B and C ===== */
const stackColors=['#0077b6','#ff7f00','#00a014','#ff2323','#a566bf','#9b5748','#ff7ac6','#808080','#c0c000','#00bfd4','#00a587','#2a5288','#ff9d80','#7e90b8','#70d4c4','#8a6045','#b8987a'];
function stacked(name,cfg){
  const g=group(name);
  const y=lin(0,cfg.y0,100,cfg.y100);
  L(g,cfg.ax,cfg.y100,cfg.ax,cfg.y0,'#777',1.5,'y-axis-line');
  L(g,cfg.ax,cfg.y0,cfg.axEnd,cfg.y0,'#333',2,'x-axis-line');
  for(let t=0;t<=100;t+=20){
    L(g,cfg.ax-6,y(t),cfg.ax,y(t),'#555',1.5,'y-tick');
    T(g,cfg.ax-9,y(t),t+'%',{fam:SERIF,fs:20,a:'end'},'y-tick-label');
  }
  cfg.stacks.forEach((st,i)=>{
    let acc=0;
    st.forEach((v,k)=>{
      if(v>0){
        R(g,cfg.cx[i]-41.5,y(acc+v),83,y(acc)-y(acc+v),stackColors[k],'stack-segment');
      }
      acc+=v;
    });
    L(g,cfg.cx[i],cfg.y0,cfg.cx[i],cfg.y0+6,'#555',1.5,'x-tick');
    T(g,cfg.cx[i],840,cfg.groups[i],{fam:SERIF,fs:20,a:'middle'},'x-tick-label');
  });
  L(g,cfg.axEnd,cfg.y0,cfg.axEnd,cfg.y0+6,'#555',1.5,'x-tick');
  T(g,cfg.titleX,509,cfg.title,{fam:SERIF,b:1,fs:21,a:'middle',rot:-90,len:cfg.titleLen},'y-axis-title');
  cfg.taxa.forEach((n,k)=>{
    const ly=638.4-k*27.2;
    R(g,cfg.legX,ly-8.5,16,17,stackColors[k],'legend-swatch');
    T(g,cfg.legX+27,ly+1,n,{fam:SERIF,i:1,fs:17},'legend-label');
  });
}
stacked('panel-b-phylum-stack',{ax:1349,axEnd:1776,y0:822,y100:194.7,cx:[1430,1563,1697],groups:bGroups,stacks:[bAcon,bAns,bAnts],taxa:bTaxa,titleX:1254,titleLen:459,title:'Percent of community abundance on Phylum level(%)',legX:1818});
stacked('panel-c-genus-stack',{ax:2262.6,axEnd:2687,y0:821,y100:194.7,cx:[2345,2477,2608],groups:cGroups,stacks:[cAcon,cAns,cAnts],taxa:cTaxa,titleX:2170,titleLen:446,title:'Percent of community abundance on Genus level(%)',legX:2730});

/* ===== OPLS-DA panels E F G ===== */
function opls(name,cfg){
  const g=group(name);
  const [x0,y0,x1,y1]=cfg.box;
  T(g,cfg.x(0),cfg.titleY,'Scores (OPLS-DA)',{fs:22,a:'middle',len:cfg.titleLen},'chart-title');
  R(g,x0,y0,x1-x0,y1-y0,'none','plot-frame',{stroke:'#222','stroke-width':2.5});
  E(g,cfg.x(0),cfg.y(0),cfg.rx,cfg.ry,0,{fill:'none',stroke:'#222','stroke-width':2.5},'hotelling-ellipse');
  L(g,x0,cfg.y(0),x1,cfg.y(0),'#222',3.5,'zero-line-horizontal');
  L(g,cfg.x(0),y0,cfg.x(0),y1,'#222',2,'zero-line-vertical');
  cfg.tri.forEach(p=>{
    Tri(g,cfg.x(p[0]),cfg.y(p[1]),8,'u',{fill:'#005fa8'},'score-triangle');
  });
  cfg.dot.forEach(p=>{
    C(g,cfg.x(p[0]),cfg.y(p[1]),6,'#ff4d4d','score-point');
  });
  cfg.xt.forEach(v=>{
    L(g,cfg.x(v),y1,cfg.x(v),y1+10,'#222',1.5,'x-tick');
    T(g,cfg.x(v),cfg.xlabY,String(v).replace('-','\u2212'),{fs:19,a:'middle',len:String(v).length>2?(String(v).length*10):undefined},'x-tick-label');
  });
  cfg.yt.forEach(v=>{
    L(g,x0-8,cfg.y(v),x0,cfg.y(v),'#222',1.5,'y-tick');
    const s=String(v).replace('-','\u2212');
    T(g,cfg.ytX,cfg.y(v),s,{fs:22,a:'middle',rot:-90,len:s.length*8.6},'y-tick-label');
  });
  T(g,cfg.ylabX,cfg.y(0),cfg.ylab,{fs:22,a:'middle',rot:-90,len:cfg.ylabLen},'y-axis-title');
  Tri(g,cfg.leg[0],cfg.leg[1],5,'u',{fill:'#005fa8'},'legend-triangle');
  T(g,cfg.leg[0]+15,cfg.leg[1],cfg.names[0],{fs:20,len:cfg.names[0].length*9.2},'legend-label');
  C(g,cfg.leg[0],cfg.leg[2],4,'#ff4d4d','legend-dot');
  T(g,cfg.leg[0]+15,cfg.leg[2],cfg.names[1],{fs:20,len:cfg.names[1].length*9.2},'legend-label');
  const hdr=['R2X','R2Y','Q2Y','','RMSEE','pre','ort'];
  cfg.cols.forEach((cx,i)=>{
    if(hdr[i])T(g,cx,cfg.rows[0],hdr[i],{fs:17,a:'middle',fill:'#222',len:hdr[i].length*(hdr[i]==='RMSEE'?12:10)},'model-stat-header');
    T(g,cx,cfg.rows[1],cfg.stats[i],{fs:17,a:'middle',b:i===3,fill:'#222',len:i===3?cfg.stats[i].length*8.5:cfg.stats[i].length*8},'model-stat-value');
  });
}
opls('panel-e-opls',{box:[1180,1055,1752,1568],x:lin(0,1466,100,1599),y:lin(0,1312,50,1207),rx:265,ry:237,titleY:1016,titleLen:174,
  tri:eAcon,dot:eAnti,xt:[-200,-100,0,100,200],yt:[-100,-50,0,50,100],xlabY:1599,ytX:1149,ylabX:1112,ylab:'to1(20%)',ylabLen:68,
  leg:[1195,1075,1096],names:['ACON','ANTI'],cols:[1151,1236,1351,1466,1579,1665,1723],rows:[1619,1638],stats:['0.829','1','0.997','t1 (59%)','0.004','1','2']});
opls('panel-f-opls',{box:[1889,1052,2468,1571],x:lin(0,2178,100,2301),y:lin(0,1312,20,1235.6),rx:268,ry:241,titleY:1013,titleLen:176,
  tri:fAcon,dot:fAntis,xt:[-200,-100,0,100,200],yt:[-60,-40,-20,0,20,40,60],xlabY:1603,ytX:1859,ylabX:1819,ylab:'to1(6%)',ylabLen:61,
  leg:[1904,1073,1093],names:['ACON','ANTIS'],cols:[1859,1946,2062,2178,2294,2381,2439],rows:[1623,1643],stats:['0.822','1','0.998','t1 (72%)','0.004','1','2']});
opls('panel-g-opls',{box:[2587.5,1046,3181,1577],x:lin(0,2883,50,2971),y:lin(0,1312,50,1216),rx:274,ry:245.4,titleY:1005.5,titleLen:181,
  tri:gAnti,dot:gAntis,xt:[-150,-100,-50,0,50,100,150],yt:[-100,-50,0,50,100],xlabY:1609,ytX:2556,ylabX:2516,ylab:'to1(27%)',ylabLen:71,
  leg:[2602,1067,1089],names:['ANTI','ANTIS'],cols:[2557,2646,2765,2883,3002,3091,3150],rows:[1629,1649],stats:['0.639','0.999','0.978','t1 (37%)','0.022','1','1']});

/* ===== Pathway bubble panels H I J ===== */
const pT=[0,.22,.355,.45,.59,.72,.86,1];
const pC=['#e75263','#9c9ba8','#00bcd0','#2ebc90','#6ab012','#4f9060','#2a7c9a','#0070c0'];
function bubble(name,cfg){
  const g=group(name);
  const [x0,y0,x1,y1]=cfg.box;
  const y=lin(0,cfg.rowFirst,cfg.names.length-1,cfg.rowLast);
  T(g,(x0+x1)/2,cfg.titleY,'Statistics of Pathway Enrichment',{b:1,fs:22,a:'middle',len:cfg.titleLen},'chart-title');
  cfg.minor.forEach(v=>{
    L(g,cfg.x(v),y0,cfg.x(v),y1,'#f3f3f3',1.5,'minor-gridline');
  });
  cfg.xt.forEach(v=>{
    L(g,cfg.x(v),y0,cfg.x(v),y1,'#ececec',2,'major-gridline');
  });
  cfg.names.forEach((n,i)=>{
    L(g,x0,y(i),x1,y(i),'#ececec',2,'row-gridline');
    L(g,x0-6,y(i),x0,y(i),'#333',2,'y-tick');
    T(g,x0-11,y(i),n,{b:1,fs:18.3,a:'end',fill:'#4d4d4d'},'pathway-label');
  });
  R(g,x0,y0,x1-x0,y1-y0,'none','plot-frame',{stroke:'#333','stroke-width':2.5});
  const col=p=>ramp(pT,pC,(p-cfg.pMin)/(cfg.pMax-cfg.pMin));
  cfg.names.forEach((n,i)=>{
    const r=cfg.k*Math.sqrt(cfg.count[i]);
    const f=col(cfg.p[i]);
    if(cfg.diff[i]==='o'){
      C(g,cfg.x(cfg.rich[i]),y(i),r,f,'pathway-bubble');
    }else{
      Tri(g,cfg.x(cfg.rich[i]),y(i),r,cfg.diff[i],{fill:f},'pathway-triangle');
    }
  });
  cfg.xt.forEach(v=>{
    L(g,cfg.x(v),y1,cfg.x(v),y1+6,'#333',2,'x-tick');
    T(g,cfg.x(v),cfg.xLabY,v.toFixed(1),{b:1,fs:18,a:'middle',fill:'#4d4d4d'},'x-tick-label');
  });
  T(g,(x0+x1)/2,cfg.xTitleY,cfg.xTitle,{b:1,fs:18,a:'middle'},'x-axis-title');
  const lx=cfg.legX;
  T(g,lx,cfg.pvY,'pvalue',{b:1,fs:25},'legend-title-pvalue');
  R(g,lx,cfg.barY[0],37,cfg.barY[1]-cfg.barY[0],'url(#pgrad)','pvalue-colorbar');
  const by=lin(cfg.pMin,cfg.barY[1],cfg.pMax,cfg.barY[0]);
  cfg.barT.forEach(v=>{
    L(g,lx,by(v),lx+7,by(v),'#fff',1.5,'colorbar-tick');
    L(g,lx+30,by(v),lx+37,by(v),'#fff',1.5,'colorbar-tick');
    T(g,lx+49,by(v),String(v.toFixed(cfg.barDec)),{fs:25},'colorbar-label');
  });
  T(g,lx,cfg.countY,'Count',{b:1,fs:25},'legend-title-count');
  cfg.legC.forEach((c,i)=>{
    C(g,lx+18,cfg.legCY[i],cfg.k*Math.sqrt(c),'#000','count-legend-bubble');
    T(g,lx+49,cfg.legCY[i],String(c),{fs:25},'count-legend-label');
  });
  T(g,lx,cfg.diffY,'Diff',{b:1,fs:25},'legend-title-diff');
  cfg.legD.forEach((d,i)=>{
    const st={fill:'none',stroke:'#000','stroke-width':1.5};
    if(d==='down')Tri(g,lx+18,cfg.legDY[i],5,'d',st,'diff-legend-down');
    if(d==='up')Tri(g,lx+18,cfg.legDY[i],5,'u',st,'diff-legend-up');
    if(d==='up&down')mk(g,'circle',Object.assign({cx:lx+18,cy:cfg.legDY[i],r:4},st),'diff-legend-both');
    T(g,lx+49,cfg.legDY[i],d,{fs:25},'diff-legend-label');
  });
}
bubble('panel-h-pathway',{box:[521,1793.5,1013,2596],x:lin(1.2,543.6,1.4,660),rowFirst:1817,rowLast:2572,names:hNames,rich:hRich,p:hP,count:hCount,diff:hDiff,k:3,titleY:1766.5,titleLen:368,
  xt:[1.2,1.4,1.6,1.8,2.0],minor:[1.3,1.5,1.7,1.9],xLabY:2614,xTitleY:2641,xTitle:'Rich factor',legX:1049,pvY:1921,barY:[1945,2128],pMin:.0137,pMax:.264,barT:[.05,.1,.15,.2,.25],barDec:2,
  countY:2187,legC:[10,20],legCY:[2230,2269],diffY:2346,legD:['down','up','up&down'],legDY:[2390,2425,2463]});
bubble('panel-i-pathway',{box:[1667,1815.5,2151,2614],x:lin(1.1,1697,1.2,1791.5),rowFirst:1838,rowLast:2592,names:iNames,rich:iRich,p:iP,count:iCount,diff:iDiff,k:2.75,titleY:1788.6,titleLen:368,
  xt:[1.1,1.2,1.3,1.4,1.5],minor:[1.15,1.25,1.35,1.45,1.55],xLabY:2634,xTitleY:2660.6,xTitle:'Rich_factor',legX:2186,pvY:1924,barY:[1948,2131.5],pMin:.02,pMax:.338,barT:[.1,.2,.3],barDec:1,
  countY:2190,legC:[10,20,30],legCY:[2232.5,2270.5,2307],diffY:2384,legD:['down','up','up&down'],legDY:[2428.5,2466,2502]});
bubble('panel-j-pathway',{box:[2787,1799,3319,2639],x:lin(1.2,2815,1.5,2944.5),rowFirst:1823.5,rowLast:2614,names:jNames,rich:jRich,p:jP,count:jCount,diff:jDiff,k:4,titleY:1771.5,titleLen:385,
  xt:[1.2,1.5,1.8,2.1],minor:[1.35,1.65,1.95,2.25],xLabY:2659,xTitleY:2686,xTitle:'Rich_factor',legX:3355,pvY:1933,barY:[1959,2150.5],pMin:.018,pMax:.303,barT:[.1,.2],barDec:1,
  countY:2212,legC:[5,10,15],legCY:[2257.6,2296,2335.4],diffY:2416,legD:['up','up&down'],legDY:[2461,2499.5]});

/* ===== Volcano panels K L M ===== */
function cloud(g,pts,x,y,fill,sw,name){
  const d='M'+pts.map(p=>x(p[0]).toFixed(1)+' '+y(p[1]).toFixed(1)).join('L')+'Z';
  return mk(g,'path',{d,fill,stroke:fill,'stroke-width':sw,'stroke-linejoin':'round'},name);
}
function volcano(name,cfg){
  const g=group(name);
  const [x0,y0,x1,y1]=cfg.box;
  const x=cfg.x,y=cfg.y;
  cloud(g,cfg.grayCloud,x,y,'#999',7,'unchanged-dense-cloud');
  cfg.gray.forEach(p=>{
    C(g,x(p[0]),y(p[1]),4,'#999','unchanged-point');
  });
  cloud(g,cfg.downCloud,x,y,'#1a66e6',10,'down-dense-cloud');
  cfg.down.forEach(p=>{
    C(g,x(p[0]),y(p[1]),6,'#1a66e6','down-point');
  });
  cloud(g,cfg.upCloud,x,y,'#ff0000',10,'up-dense-cloud');
  cfg.up.forEach(p=>{
    C(g,x(p[0]),y(p[1]),6,'#ff0000','up-point');
  });
  L(g,x(0),y0,x(0),y1,'#555',1.5,'zero-fold-line','6,5');
  L(g,x0,y(cfg.thr),x1,y(cfg.thr),'#555',1.5,'p-threshold-line','6,5');
  R(g,x0,y0,x1-x0,y1-y0,'none','plot-frame',{stroke:'#333','stroke-width':2.5});
  cfg.xt.forEach(v=>{
    L(g,x(v),y1,x(v),y1+6,'#333',1.5,'x-tick');
    T(g,x(v),3699,String(v),{fs:17,a:'middle',fill:'#4d4d4d'},'x-tick-label');
  });
  cfg.yt.forEach(v=>{
    L(g,x0-6,y(v),x0,y(v),'#333',1.5,'y-tick');
    T(g,x0-10,y(v),String(v),{fs:17,a:'end',fill:'#4d4d4d'},'y-tick-label');
  });
  T(g,cfg.xTitleX,3722.5,'log2(Fold Change)',{fs:22,a:'middle'},'x-axis-title');
  T(g,cfg.yTitleX,3209.5,'-log10(P value)',{fs:21,a:'middle',rot:-90},'y-axis-title');
  const lx=cfg.legX,ly=cfg.legY;
  T(g,lx,ly,'regulated',{fs:22},'legend-title-regulated');
  const lab=['up:'+cfg.nUp,'down:'+cfg.nDown,'unchanged:'+cfg.nSame],col=['#ff0000','#1a66e6','#999'];
  lab.forEach((s,i)=>{
    C(g,lx+17,ly+39.5+i*35,5,col[i],'legend-dot');
    T(g,lx+45,ly+39.5+i*35,s,{fs:18},'legend-label');
  });
  T(g,lx,ly+181,'VIP',{fs:22},'legend-title-vip');
  ['0.0',cfg.vip].forEach((s,i)=>{
    C(g,lx+17,ly+220.5+i*35,i?5.5:3.2,'#000','vip-legend-dot');
    T(g,lx+45,ly+220.5+i*35,s,{fs:18},'vip-legend-label');
  });
  return g;
}
const BLUE_LAB='#3b7cf0',RED_LAB='#ff1a1a';
const xK=lin(0,584,30,806),yK=lin(0,3638,5,3357.5);
const gK=volcano('panel-k-volcano',{box:[199.5,2737,1059.5,3680],x:xK,y:yK,xt:[-30,0,30,60],yt:[0,5,10,15],thr:1.3,grayCloud:kGrayCloud,gray:kGray,downCloud:kDownCloud,down:kDown.concat(kDownEdge),upCloud:kUpCloud,up:kUp.concat(kUpEdge),xTitleX:630,yTitleX:150,legX:1095,legY:3078,nUp:1322,nDown:2736,nSame:3402,vip:'1.2'});
L(gK,xK(-5.2),yK(15.3),xK(-2.8),yK(14),BLUE_LAB,2,'annotation-connector');
L(gK,xK(-1.9),yK(13.7),xK(-3.4),yK(13.4),BLUE_LAB,2,'annotation-connector');
L(gK,xK(-5),yK(15.35),xK(-3.9),yK(15.5),BLUE_LAB,2,'annotation-connector');
L(gK,xK(1.3),yK(13.6),xK(7),yK(12.65),RED_LAB,2,'annotation-connector');
T(gK,262,2760,'(3beta,5alpha,9alpha,22E,24R)-5,9-Epidioxy-3-hydroxyergosta-7,22-dien-6-one',{fs:23,fill:BLUE_LAB,len:784},'metabolite-annotation');
T(gK,213,2787,'cis-6-Nitro-p-mentha-1(7),2-diene',{fs:23,fill:BLUE_LAB,len:332},'metabolite-annotation');
T(gK,437,2833,'Demethoxyrapamycin',{fs:23,fill:BLUE_LAB,len:214},'metabolite-annotation');
T(gK,213,2894,'6,8-Diethyl-4-methyl-3E,5E,7E,9E-dodecatetraene',{fs:23,fill:BLUE_LAB,len:497},'metabolite-annotation');
T(gK,525,2939,'1,3,5-TRIMETHOXYBENZENE',{fs:23,fill:RED_LAB,len:306},'metabolite-annotation');

const xL=lin(0,1862,25,2071),yL=lin(0,3639,5,3351);
const gL=volcano('panel-l-volcano',{box:[1434,2738.6,2293,3681],x:xL,y:yL,xt:[-50,-25,0,25,50],yt:[0,5,10,15],thr:1.3,grayCloud:lGrayCloud,gray:lGray,downCloud:lDownCloud,down:lDown.concat(lDownEdge),upCloud:lUpCloud,up:lUp.concat(lUpEdge),xTitleX:1863,yTitleX:1386,legX:2327.5,legY:3080,nUp:1916,nDown:2948,nSame:2596,vip:'1.1'});
L(gL,xL(1.9),yL(14.9),xL(16.2),yL(15.25),RED_LAB,2.5,'annotation-connector');
L(gL,xL(-4.6),yL(13.6),xL(-3),yL(14.1),BLUE_LAB,2,'annotation-connector');
L(gL,xL(-1.2),yL(14.15),xL(.2),yL(13.9),BLUE_LAB,2,'annotation-connector');
T(gL,2000,2762,'Butaprost (free acid)',{fs:23,fill:RED_LAB,len:200.5},'metabolite-annotation');
T(gL,1745,2797,'16-Hydroxypalmitic acid',{fs:23,fill:BLUE_LAB,len:236},'metabolite-annotation');
T(gL,1447,2804,'6,8-Diethyl-4-methyl-3E,5E,7E,9E-dodecatetraene',{fs:23,fill:BLUE_LAB,len:496},'metabolite-annotation');
T(gL,1606,2860,'Demethoxyrapamycin',{fs:23,fill:BLUE_LAB,len:214},'metabolite-annotation');
T(gL,1845,2854,'p-coumaroyltriacetic acid lactone',{fs:23,fill:BLUE_LAB,len:323},'metabolite-annotation');

const xM=lin(0,3079,30,3304),yM=lin(0,3640,3,3418);
const gM=volcano('panel-m-volcano',{box:[2596.5,2738.6,3458,3681],x:xM,y:yM,xt:[-60,-30,0,30],yt:[0,3,6,9,12],thr:1.31,grayCloud:mGrayCloud,gray:mGray,downCloud:mDownCloud,down:mDown.concat(mDownEdge),upCloud:mUpCloud,up:mUp.concat(mUpEdge),xTitleX:3029,yTitleX:2549,legX:3493,legY:3080,nUp:1837,nDown:1087,nSame:4536,vip:'1.4'});
L(gM,xM(2.8),yM(11.9),xM(4.1),yM(11.62),RED_LAB,2,'annotation-connector');
L(gM,xM(4.1),yM(11.34),xM(5.7),yM(11.33),RED_LAB,2,'annotation-connector');
L(gM,xM(3.6),yM(10.99),xM(8.7),yM(10.72),RED_LAB,2,'annotation-connector');
L(gM,xM(2.3),yM(10.87),xM(-3.1),yM(10.22),RED_LAB,2,'annotation-connector');
T(gM,2876.5,2762,'7-O-Acetylaustroinulin',{fs:23,fill:RED_LAB,len:219.5},'metabolite-annotation');
T(gM,3124,2802.5,'SM(d16:1/6 keto-PGF1alpha)',{fs:23,fill:RED_LAB,len:291.5},'metabolite-annotation');
T(gM,2646.7,2808,"4'-Methoxy-alpha-pyrrolidinopropiophenone",{fs:23,fill:BLUE_LAB,len:430},'metabolite-annotation');
T(gM,3147.6,2848,'DIHYDROROBINETIN',{fs:23,fill:RED_LAB,len:223.4},'metabolite-annotation');
T(gM,2833.6,2893.7,'PA(PGF1alpha/18:3(9Z,12Z,15Z))',{fs:23,fill:RED_LAB,len:336.4},'metabolite-annotation');

/* ===== Heatmap N ===== */
const heatT=[-1.7,-1.4,-1.2,-1,-.7,-.3,0,.35,.6,.9,1.2,1.5,1.7];
const heatC=['#2b7bba','#4f9bc9','#66afd6','#96cbe3','#c5e6f0','#e8f5e0','#ffffbf','#fddf90','#fdc070','#ff9a55','#ff7045','#ff4a30','#ff2d20'];
(function(){
  const g=group('panel-n-heatmap');
  const hx=481,hy=4110,cw=2067/18,ch=1739/15;
  const colC=j=>hx+(j+.5)*cw, rowC=i=>hy+(i+.5)*ch;
  nValues.forEach((row,i)=>{
    row.forEach((v,j)=>{
      R(g,hx+j*cw,hy+i*ch,cw,ch,ramp(heatT,heatC,v),'heatmap-cell',{stroke:'#fff','stroke-width':2.5,'stroke-opacity':.85});
    });
  });
  const annCol=['#ff2d20','#ff8c55','#ffdf8a'];
  nCols.forEach((n,j)=>{
    const grp=j<6?0:j<12?1:2;
    R(g,481+j*2071/18,4041,2071/18+.5,59.5,annCol[grp],'group-annotation-cell');
    T(g,colC(j)+28,5878,n,{fam:SERIF,b:1,fs:34,a:'end',rot:-45},'sample-label');
  });
  nRows.forEach((n,i)=>{
    T(g,2585,rowC(i)+2,n,{fam:SERIF,b:1,i:1,fs:34,sx:1.14},'genus-label');
  });
  const rowTree=[333,[442,0,[464,1,[470,[474,2,3],[472,[474,4,5],6]]]],[361,7,[396,[457,8,[466,9,10]],[435,11,[464,12,[476,13,14]]]]]];
  const colTree=[3891,[4028,0,[4030,1,[4032,2,[4033,3,[4035,4,5]]]]],[3974,[4028,[4034,6,7],[4030,8,[4032,9,[4035,10,11]]]],[4023,12,[4028,[4036,13,14],[4030,15,[4034,16,17]]]]]];
  function drawR(node){
    if(typeof node==='number')return {c:rowC(node),h:478};
    const A=drawR(node[1]),B=drawR(node[2]);
    mk(g,'path',{d:'M'+A.h+' '+A.c+'H'+node[0]+'V'+B.c+'H'+B.h,fill:'none',stroke:'#999','stroke-width':2.5},'row-dendrogram-branch');
    return {c:(A.c+B.c)/2,h:node[0]};
  }
  function drawC(node){
    if(typeof node==='number')return {c:colC(node),h:4038};
    const A=drawC(node[1]),B=drawC(node[2]);
    mk(g,'path',{d:'M'+A.c+' '+A.h+'V'+node[0]+'H'+B.c+'V'+B.h,fill:'none',stroke:'#999','stroke-width':2.5},'column-dendrogram-branch');
    return {c:(A.c+B.c)/2,h:node[0]};
  }
  drawR(rowTree);
  drawC(colTree);
  const cy=lin(0,4337.5,1.5,4136);
  for(let i=0;i<89;i++){
    const v=1.66-i*3.32/89;
    R(g,3202,cy(v),29,3.32*134/89+.6,ramp(heatT,heatC,v),'colorbar-step');
  }
  [-1.5,-1,-.5,0,.5,1,1.5].forEach(v=>{
    T(g,3257,cy(v),v.toFixed(1),{fam:SERIF,b:1,fs:32,sx:1.1},'colorbar-label');
  });
  [['CON',4619,4766,4694],['ANTI',4766,4913,4843],['ANTIS',4913,5062,4991]].forEach((q,i)=>{
    R(g,3202,q[1],29,q[2]-q[1],annCol[i],'group-legend-swatch');
    T(g,3257,q[3],q[0],{fam:SERIF,b:1,fs:34,sx:1.1},'group-legend-label');
  });
})();
</script>
</body>
</html>
